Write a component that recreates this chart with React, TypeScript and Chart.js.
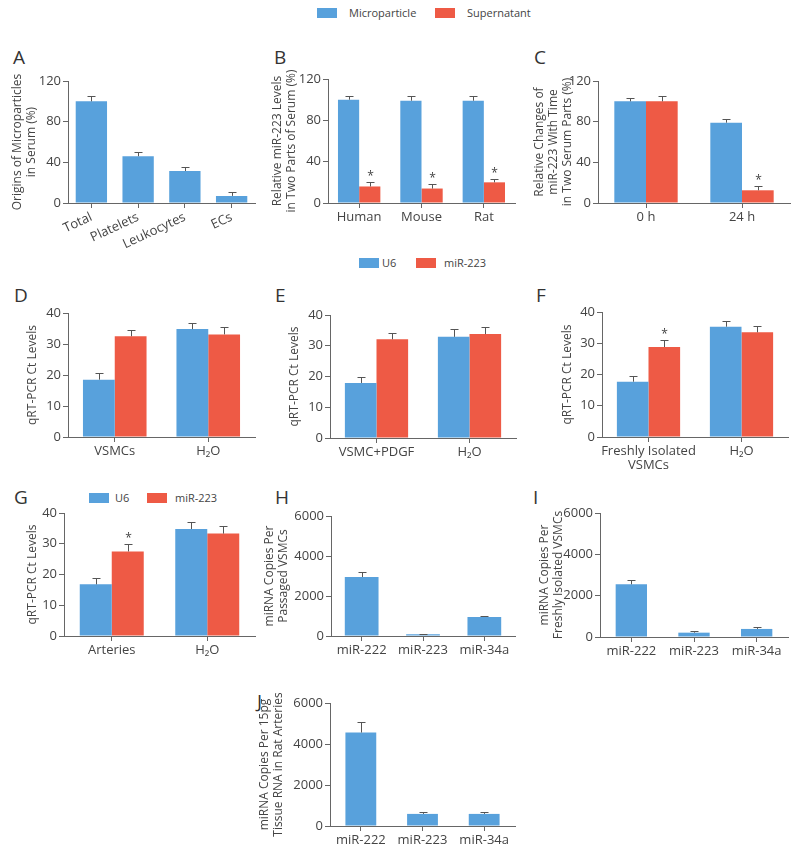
import React, { useEffect, useRef } from "react";
import { Chart, registerables } from "chart.js";

Chart.register(...registerables);

const BLUE = "#58a1dc";
const RED = "#ee5a45";
const AXIS = "#666";
const TEXT = "#444";
const FONT = "Open Sans";

// ---- Data ----
const catA = ["Total", "Platelets", "Leukocytes", "ECs"];
const valA = [100, 46, 31.5, 7];
const errA = [5, 4.5, 3.5, 3.5];

const catB = ["Human", "Mouse", "Rat"];
const microB = [100, 99, 99];
const microErrB = [4, 4.5, 4.5];
const superB = [16, 14, 20];
const superErrB = [4, 4, 3.5];
const superStarB = [true, true, true];

const catC = ["0 h", "24 h"];
const microC = [100, 79];
const microErrC = [3.5, 4];
const superC = [100, 12.5];
const superErrC = [5.5, 4.5];
const superStarC = [false, true];

const catD = ["VSMCs", "H₂O"];
const u6D = [18.5, 34.8];
const u6ErrD = [2, 2.1];
const mirD = [32.5, 33.1];
const mirErrD = [2.1, 2.4];

const catE = ["VSMC+PDGF", "H₂O"];
const u6E = [17.9, 32.9];
const u6ErrE = [2, 2.7];
const mirE = [32.1, 33.8];
const mirErrE = [2.2, 2.4];

const catF = [["Freshly Isolated", "VSMCs"], "H₂O"];
const u6F = [17.7, 35.3];
const u6ErrF = [1.8, 1.7];
const mirF = [28.8, 33.5];
const mirErrF = [2.1, 2.1];
const mirStarF = [true, false];

const catG = ["Arteries", "H₂O"];
const u6G = [16.8, 34.8];
const u6ErrG = [2.1, 2.2];
const mirG = [27.5, 33.3];
const mirErrG = [2.3, 2.4];
const mirStarG = [true, false];

const catMir = ["miR-222", "miR-223", "miR-34a"];
const valH = [2950, 85, 950];
const errH = [230, 30, 60];
const valI = [2550, 210, 390];
const errI = [210, 60, 70];
const valJ = [4560, 590, 590];
const errJ = [510, 80, 90];

const errorPlugin = {
  id: "errbars",
  afterDatasetsDraw(chart: any) {
    const ctx = chart.ctx;
    const ys = chart.scales.y;
    chart.data.datasets.forEach((ds: any, di: number) => {
      const meta = chart.getDatasetMeta(di);
      meta.data.forEach((bar: any, i: number) => {
        const e = ds.errors ? ds.errors[i] : null;
        if (e == null) return;
        const x = Math.round(bar.x) + 0.5;
        const top = bar.y;
        const ey = Math.round(ys.getPixelForValue(ds.data[i] + e)) + 0.5;
        ctx.save();
        ctx.strokeStyle = "#555";
        ctx.lineWidth = 1;
        ctx.beginPath();
        ctx.moveTo(x, top);
        ctx.lineTo(x, ey);
        ctx.moveTo(x - 4, ey);
        ctx.lineTo(x + 4, ey);
        ctx.stroke();
        if (ds.stars && ds.stars[i]) {
          ctx.fillStyle = TEXT;
          ctx.font = `12px "${FONT}"`;
          ctx.textAlign = "center";
          ctx.textBaseline = "alphabetic";
          ctx.fillText("*", x, ey - 3);
        }
        ctx.restore();
      });
    });
  },
};

type PanelCfg = {
  canvasLeft: number;
  axisX: number;
  right: number;
  top: number;
  bottom: number;
  xH: number;
  labels: any[];
  datasets: any[];
  max: number;
  step: number;
  title: string | string[];
  catPct: number;
  rotation?: number;
};

const PAD_TOP = 10;
const PAD_RIGHT = 10;

function Panel({ cfg }: { cfg: PanelCfg }) {
  const ref = useRef<HTMLCanvasElement>(null);
  const width = cfg.right - cfg.canvasLeft + PAD_RIGHT;
  const height = cfg.bottom - cfg.top + PAD_TOP + cfg.xH;
  useEffect(() => {
    if (!ref.current) return;
    const chart = new Chart(ref.current, {
      type: "bar",
      data: {
        labels: cfg.labels,
        datasets: cfg.datasets.map((d) => ({
          ...d,
          borderWidth: 0,
          barPercentage: 1,
          categoryPercentage: cfg.catPct,
        })),
      },
      options: {
        animation: false,
        responsive: false,
        devicePixelRatio: 1,
        layout: { padding: { top: PAD_TOP, right: PAD_RIGHT, left: 0, bottom: 0 } },
        plugins: { legend: { display: false }, tooltip: { enabled: false } },
        scales: {
          x: {
            type: "category",
            offset: true,
            grid: {
              display: true,
              drawOnChartArea: false,
              offset: false,
              tickLength: 5,
              color: AXIS,
            },
            border: { color: AXIS },
            ticks: {
              color: TEXT,
              font: { family: FONT, size: 13, lineHeight: 1.1 },
              padding: 2,
              autoSkip: false,
              minRotation: cfg.rotation || 0,
              maxRotation: cfg.rotation || 0,
            },
            afterFit: (s: any) => {
              s.height = cfg.xH;
            },
          } as any,
          y: {
            min: 0,
            max: cfg.max,
            grid: { drawOnChartArea: false, tickLength: 5, color: AXIS },
            border: { color: AXIS },
            ticks: {
              stepSize: cfg.step,
              color: TEXT,
              font: { family: FONT, size: 13 },
              padding: 2,
              callback: (v: any) => String(v),
            },
            title: {
              display: true,
              text: cfg.title,
              color: TEXT,
              font: { family: FONT, size: 12, lineHeight: 1.15 },
              padding: 0,
            },
            afterFit: (s: any) => {
              s.width = cfg.axisX - cfg.canvasLeft;
            },
          } as any,
        },
      },
      plugins: [errorPlugin],
    });
    return () => chart.destroy();
  }, []);
  return (
    <canvas
      ref={ref}
      width={width}
      height={height}
      style={{
        position: "absolute",
        left: cfg.canvasLeft,
        top: cfg.top - PAD_TOP,
        width,
        height,
      }}
    />
  );
}

const two = (a: number[], ae: number[], b: number[], be: number[], bs?: boolean[]) => [
  { data: a, errors: ae, backgroundColor: BLUE },
  { data: b, errors: be, stars: bs, backgroundColor: RED },
];
const one = (a: number[], ae: number[]) => [{ data: a, errors: ae, backgroundColor: BLUE }];

const panels: PanelCfg[] = [
  { canvasLeft: 11, axisX: 68, right: 255, top: 81, bottom: 203, xH: 45, labels: catA, datasets: one(valA, errA), max: 120, step: 40, title: ["Origins of Microparticles", "in Serum (%)"], catPct: 0.67, rotation: 25 },
  { canvasLeft: 271, axisX: 328, right: 515, top: 79, bottom: 203, xH: 25, labels: catB, datasets: two(microB, microErrB, superB, superErrB, superStarB), max: 120, step: 40, title: ["Relative miR-223 Levels", "in Two Parts of Serum (%)"], catPct: 0.68 },
  { canvasLeft: 533, axisX: 598, right: 790, top: 81, bottom: 203, xH: 25, labels: catC, datasets: two(microC, microErrC, superC, superErrC, superStarC), max: 120, step: 40, title: ["Relative Changes of", "miR-223 With Time", "in Two Serum Parts (%)"], catPct: 0.66 },
  { canvasLeft: 26, axisX: 68, right: 255, top: 313, bottom: 437, xH: 25, labels: catD, datasets: two(u6D, u6ErrD, mirD, mirErrD), max: 40, step: 10, title: "qRT-PCR Ct Levels", catPct: 0.68 },
  { canvasLeft: 288, axisX: 330, right: 516, top: 315, bottom: 438, xH: 25, labels: catE, datasets: two(u6E, u6ErrE, mirE, mirErrE), max: 40, step: 10, title: "qRT-PCR Ct Levels", catPct: 0.68 },
  { canvasLeft: 561, axisX: 602, right: 788, top: 312, bottom: 437, xH: 40, labels: catF, datasets: two(u6F, u6ErrF, mirF, mirErrF, mirStarF), max: 40, step: 10, title: "qRT-PCR Ct Levels", catPct: 0.68 },
  { canvasLeft: 26, axisX: 64, right: 255, top: 513, bottom: 636, xH: 25, labels: catG, datasets: two(u6G, u6ErrG, mirG, mirErrG, mirStarG), max: 40, step: 10, title: "qRT-PCR Ct Levels", catPct: 0.67 },
  { canvasLeft: 263, axisX: 331, right: 515, top: 516, bottom: 636, xH: 25, labels: catMir, datasets: one(valH, errH), max: 6000, step: 2000, title: ["miRNA Copies Per", "Passaged VSMCs"], catPct: 0.55 },
  { canvasLeft: 538, axisX: 600, right: 788, top: 513, bottom: 637, xH: 25, labels: catMir, datasets: one(valI, errI), max: 6000, step: 2000, title: ["miRNA Copies Per", "Freshly Isolated VSMCs"], catPct: 0.5 },
  { canvasLeft: 258, axisX: 330, right: 515, top: 703, bottom: 826, xH: 25, labels: catMir, datasets: one(valJ, errJ), max: 6000, step: 2000, title: ["miRNA Copies Per 15pg", "Tissue RNA in Rat Arteries"], catPct: 0.5 },
];

const letters: [string, number, number][] = [
  ["A", 13, 52], ["B", 274, 52], ["C", 534, 52],
  ["D", 14, 290], ["E", 275, 290], ["F", 536, 290],
  ["G", 14, 492], ["H", 275, 492], ["I", 533, 492],
  ["J", 257, 696],
];

function Letter({ t, x, capTop }: { t: string; x: number; capTop: number }) {
  return (
    <div
      style={{
        position: "absolute",
        left: x,
        top: capTop - 4,
        fontSize: 19,
        lineHeight: "19px",
        fontFamily: FONT,
        color: "#333",
      }}
    >
      {t}
    </div>
  );
}

function LegendItem({ x, y, color, text, textX }: { x: number; y: number; color: string; text: string; textX: number }) {
  return (
    <>
      <div style={{ position: "absolute", left: x, top: y - 5, width: 20, height: 10, background: color }} />
      <div
        style={{
          position: "absolute",
          left: textX,
          top: y - 8,
          fontSize: 11,
          lineHeight: "16px",
          fontFamily: FONT,
          color: TEXT,
          whiteSpace: "nowrap",
        }}
      >
        {text}
      </div>
    </>
  );
}

export default function App() {
  return (
    <div
      style={{
        position: "absolute",
        left: 0,
        top: 0,
        width: 800,
        height: 858,
        background: "#fff",
        fontFamily: FONT,
      }}
    >
      <LegendItem x={317} y={13} color={BLUE} text="Microparticle" textX={349} />
      <LegendItem x={435} y={13} color={RED} text="Supernatant" textX={467} />
      <LegendItem x={359} y={263} color={BLUE} text="U6" textX={382} />
      <LegendItem x={416} y={263} color={RED} text="miR-223" textX={444} />
      <LegendItem x={89} y={498} color={BLUE} text="U6" textX={115} />
      <LegendItem x={147} y={498} color={RED} text="miR-223" textX={175} />
      {letters.map(([t, x, y]) => (
        <Letter key={t} t={t} x={x} capTop={y} />
      ))}
      {panels.map((p, i) => (
        <Panel key={i} cfg={p} />
      ))}
    </div>
  );
}
